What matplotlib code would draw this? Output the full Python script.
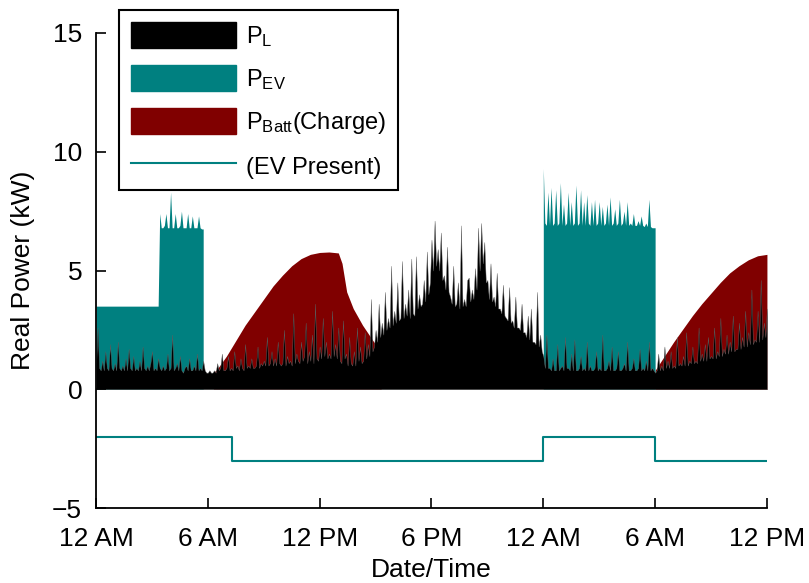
import numpy as np
import matplotlib
matplotlib.use("Agg")
import matplotlib.pyplot as plt
from matplotlib.patches import Patch
from matplotlib.lines import Line2D

plt.rcParams['font.family'] = ['Liberation Sans', 'DejaVu Sans']
plt.rcParams['mathtext.fontset'] = 'custom'
plt.rcParams['mathtext.rm'] = 'Liberation Sans'
plt.rcParams['mathtext.it'] = 'Liberation Sans:italic'

# ---- data (hours since first midnight), 5-minute samples ----
step_h = 5.0 / 60.0
load_kw = [
    1.0, 2.6, 0.9, 0.8, 1.2, 0.8, 1.6, 0.9, 0.8, 1.9, 0.9, 0.8,   # 0 h
    1.1, 0.8, 2.0, 0.9, 0.8, 1.0, 0.8, 1.3, 0.8, 1.7, 0.9, 0.8,   # 1 h
    1.4, 0.8, 0.9, 0.8, 1.2, 0.8, 1.8, 0.9, 0.8, 1.0, 0.8, 1.1,   # 2 h
    1.6, 0.8, 0.9, 0.8, 1.3, 0.9, 0.8, 1.0, 0.8, 0.9, 1.5, 0.8,   # 3 h
    0.9, 2.3, 0.8, 0.9, 1.1, 0.8, 1.4, 0.8, 0.7, 0.9, 1.0, 0.8,   # 4 h
    1.3, 0.8, 0.8, 1.0, 0.8, 1.5, 0.8, 0.9, 0.8, 1.2, 0.8, 0.7,   # 5 h
    0.7, 0.8, 0.7, 0.7, 0.8, 0.7, 1.1, 0.8, 0.9, 1.5, 0.8, 0.8,   # 6 h
    0.9, 1.4, 0.8, 0.9, 0.8, 1.6, 0.9, 1.0, 0.8, 1.3, 0.9, 0.8,   # 7 h
    1.9, 0.9, 1.0, 0.9, 1.3, 0.9, 0.9, 1.0, 1.8, 0.9, 1.1, 1.0,   # 8 h
    1.2, 1.0, 2.2, 1.0, 1.1, 1.6, 1.0, 1.3, 1.0, 2.0, 1.1, 1.0,   # 9 h
    1.1, 2.5, 1.0, 1.4, 1.1, 1.2, 1.0, 3.2, 1.1, 1.5, 1.2, 1.1,   # 10 h
    2.0, 1.2, 1.4, 2.8, 1.1, 1.6, 1.2, 2.3, 1.1, 3.6, 1.3, 1.2,   # 11 h
    1.8, 1.3, 3.0, 1.4, 2.0, 1.3, 1.5, 1.3, 3.3, 1.4, 1.9, 1.3,   # 12 h
    2.6, 1.2, 1.1, 2.9, 1.3, 1.5, 1.0, 2.2, 1.1, 1.0, 1.6, 1.0,   # 13 h
    2.6, 1.2, 1.8, 1.1, 1.2, 2.4, 1.3, 1.9, 1.4, 3.8, 1.6, 1.8,   # 14 h
    2.5, 2.0, 3.6, 2.2, 2.8, 2.3, 4.1, 2.5, 3.0, 2.6, 5.2, 2.7,   # 15 h
    3.3, 2.8, 4.5, 2.9, 3.0, 5.4, 3.0, 3.6, 3.1, 4.2, 3.0, 5.5,   # 16 h
    3.2, 3.1, 5.6, 3.4, 4.0, 3.5, 3.6, 4.6, 3.7, 5.8, 4.0, 4.5,   # 17 h
    6.3, 5.0, 7.1, 5.2, 5.9, 5.0, 6.6, 4.6, 4.8, 4.2, 6.0, 4.1,   # 18 h
    3.9, 3.6, 5.2, 3.5, 3.6, 4.5, 3.4, 6.9, 3.5, 3.8, 3.5, 4.6,   # 19 h
    4.7, 3.7, 4.2, 3.8, 5.1, 4.2, 6.8, 5.0, 7.0, 5.3, 6.2, 4.5,   # 20 h
    4.6, 3.8, 5.3, 3.7, 3.9, 3.5, 4.9, 3.4, 3.4, 3.2, 4.4, 3.1,   # 21 h
    3.0, 2.9, 4.3, 2.8, 2.9, 2.6, 3.9, 2.6, 2.6, 2.5, 3.6, 2.4,   # 22 h
    2.4, 2.2, 3.1, 2.1, 3.4, 2.0, 2.0, 1.9, 4.1, 1.8, 2.3, 1.6,   # 23 h
    1.4, 0.9, 2.3, 0.9, 0.9, 0.8, 1.3, 0.8, 0.8, 1.9, 0.8, 0.9,   # 24 h
    1.0, 0.8, 2.2, 0.9, 0.9, 0.8, 1.5, 0.8, 2.1, 0.8, 0.8, 0.9,   # 25 h
    1.4, 0.8, 0.9, 0.8, 2.0, 0.8, 1.0, 0.8, 0.8, 0.9, 1.6, 0.8,   # 26 h
    0.9, 0.8, 2.3, 0.8, 0.8, 0.9, 1.2, 0.8, 1.8, 0.8, 0.8, 0.9,   # 27 h
    1.6, 0.8, 0.8, 0.9, 1.1, 0.8, 2.0, 0.8, 0.8, 0.9, 1.3, 0.8,   # 28 h
    0.8, 0.9, 1.7, 0.8, 0.9, 0.8, 1.2, 0.8, 2.0, 0.8, 0.9, 0.8,   # 29 h
    0.7, 0.8, 1.5, 0.8, 1.0, 0.8, 1.8, 0.9, 1.2, 0.9, 1.6, 0.9,   # 30 h
    1.0, 0.9, 2.2, 1.0, 1.1, 1.0, 1.4, 1.0, 2.4, 1.0, 1.2, 1.1,   # 31 h
    1.8, 1.1, 1.2, 1.1, 2.6, 1.2, 1.5, 1.2, 1.9, 1.2, 2.2, 1.3,   # 32 h
    1.4, 1.3, 2.6, 1.3, 1.6, 1.4, 3.0, 1.4, 1.7, 1.5, 2.3, 1.5,   # 33 h
    2.0, 1.6, 3.1, 1.6, 1.7, 1.7, 2.8, 1.7, 2.2, 1.8, 3.3, 1.8,   # 34 h
    2.4, 1.9, 4.2, 1.9, 2.1, 2.0, 3.3, 2.0, 4.6, 2.1, 2.8, 2.2,   # 35 h
    3.4,                                                          # 36 h
]

# EV charging (total power while the EV charges), 5-minute samples
ev1_start_h = 0.0
ev1_kw = [3.5] * 41 + [
    7.4, 6.8, 6.8, 6.9, 7.4, 6.8, 6.8, 8.3, 6.8, 6.8,
    7.4, 6.8, 6.8, 6.9, 7.5, 6.8, 6.8, 6.8, 7.4, 6.8,
    6.8, 7.3, 6.8, 6.8, 6.8, 7.3, 6.8, 6.75, 6.75]
ev2_start_h = 24.0
ev2_kw = [
    9.3, 7.0, 6.9, 8.3, 6.9, 8.5, 6.9, 7.0, 8.4, 6.9, 7.0, 8.7,
    6.9, 7.8, 6.9, 7.0, 8.3, 6.9, 7.9, 6.9, 7.0, 8.6, 6.9, 7.0,
    8.4, 6.9, 7.9, 6.9, 8.2, 7.0, 6.9, 7.9, 6.9, 8.0, 6.9, 7.0,
    7.9, 6.9, 7.7, 6.9, 7.0, 7.8, 6.9, 8.1, 6.9, 7.0, 7.6, 6.9,
    7.0, 8.0, 6.9, 7.0, 7.5, 6.9, 7.9, 6.9, 7.0, 6.9, 7.4, 6.9,
    6.9, 7.1, 6.9, 7.3, 6.9, 6.85, 7.0, 6.85, 8.0, 6.85, 6.8, 6.8, 6.8]

# Battery charging envelope (total power)
batt1_h = [6.3, 6.5, 7.0, 7.5, 8.0, 8.5, 9.0, 9.5, 10.0, 10.5, 11.0, 11.5,
           12.0, 12.5, 13.0, 13.2, 13.45, 13.8, 14.3, 14.9, 15.3]
batt1_kw = [0.7, 0.85, 1.4, 2.05, 2.7, 3.25, 3.8, 4.35, 4.8, 5.2, 5.5, 5.68,
            5.76, 5.78, 5.74, 5.3, 4.1, 3.4, 2.7, 2.0, 1.6]
batt2_h = [30.0, 30.5, 31.0, 31.5, 32.0, 32.5, 33.0, 33.5, 34.0, 34.5,
           35.0, 35.5, 36.0]
batt2_kw = [0.8, 1.4, 2.0, 2.55, 3.1, 3.6, 4.05, 4.5, 4.9, 5.2, 5.45,
            5.62, 5.68]

# EV present indicator
ev_present_h = [0.0, 7.3, 24.0, 30.0, 36.0]
ev_present_val = [-2, -3, -2, -3, -3]

tick_hours = [0, 6, 12, 18, 24, 30, 36]
tick_labels = ['12 AM', '6 AM', '12 PM', '6 PM', '12 AM', '6 AM', '12 PM']
y_ticks = [-5, 0, 5, 10, 15]
y_tick_labels = ['\u22125', '0', '5', '10', '15']

TEAL = '#008080'
MAROON = '#800000'

# ---- figure ----
fig = plt.figure(figsize=(8.09, 5.83), dpi=100)
ax = fig.add_axes([0.1187, 0.1286, 0.8293, 0.8148])

t_load = np.arange(len(load_kw)) * step_h
t_ev1 = ev1_start_h + np.arange(len(ev1_kw)) * step_h
t_ev2 = ev2_start_h + np.arange(len(ev2_kw)) * step_h

ax.fill_between(batt1_h, 0, batt1_kw, color=MAROON, linewidth=0)
ax.fill_between(batt2_h, 0, batt2_kw, color=MAROON, linewidth=0)
ax.fill_between(t_ev1, 0, ev1_kw, color=TEAL, linewidth=0)
ax.fill_between(t_ev2, 0, ev2_kw, color=TEAL, linewidth=0)
ax.fill_between(t_load, 0, load_kw, facecolor='black', linewidth=0.3,
                edgecolor='#666666')
ax.step(ev_present_h, ev_present_val, where='post', color=TEAL, linewidth=1.5)

ax.set_xlim(0, 36)
ax.set_ylim(-5, 15)
ax.set_xticks(tick_hours)
ax.set_xticklabels(tick_labels)
ax.set_yticks(y_ticks)
ax.set_yticklabels(y_tick_labels)
ax.tick_params(direction='in', length=7, width=1.2, labelsize=19)
ax.tick_params(axis='x', pad=14)
ax.tick_params(axis='y', pad=10)
for s in ['top', 'right']:
    ax.spines[s].set_visible(False)
for s in ['left', 'bottom']:
    ax.spines[s].set_linewidth(1.3)
ax.set_xlabel('Date/Time', fontsize=19, labelpad=5)
ax.set_ylabel('Real Power (kW)', fontsize=19, labelpad=12)

handles = [Patch(facecolor='black', edgecolor='black'),
           Patch(facecolor=TEAL, edgecolor=TEAL),
           Patch(facecolor=MAROON, edgecolor=MAROON),
           Line2D([0], [0], color=TEAL, linewidth=1.5)]
labels = [r'P$_{\mathrm{L}}$', r'P$_{\mathrm{EV}}$',
          r'P$_{\mathrm{Batt}}$(Charge)', '(EV Present)']
leg = ax.legend(handles, labels, loc='upper left',
                bbox_to_anchor=(119 / 809, 1 - 10 / 583),
                bbox_transform=fig.transFigure, borderaxespad=0,
                fontsize=17, handlelength=4.45, handleheight=1.31,
                labelspacing=0.7, handletextpad=0.42, borderpad=0.5,
                fancybox=False, framealpha=1)
leg.get_frame().set_edgecolor('black')
leg.get_frame().set_linewidth(1.5)

fig.savefig('out.png', dpi=100)
